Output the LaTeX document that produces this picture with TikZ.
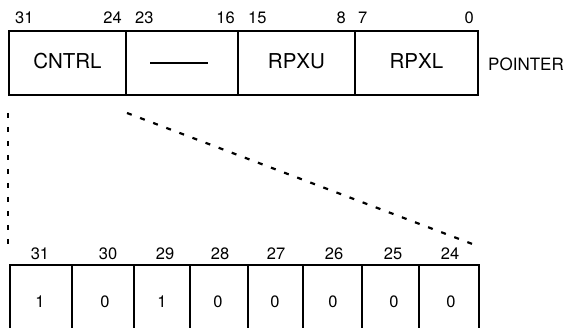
\documentclass[tikz,border=0pt]{standalone}
\usepackage{fontspec}
\setmainfont{TeX Gyre Heros}
\begin{document}
\begin{tikzpicture}[x=1pt,y=-1pt,
  cell/.style={draw,line width=1.9pt,inner sep=0pt,anchor=north west,minimum height=64pt},
  bcell/.style={draw,line width=1.9pt,inner sep=0pt,anchor=north west,minimum height=100pt},
  bignum/.style={font=\fontsize{20.5}{20.5}\selectfont,inner sep=0pt},
  lbl/.style={font=\fontsize{16.5}{16.5}\selectfont,inner sep=0pt},
  val/.style={font=\fontsize{16.5}{16.5}\selectfont,inner sep=0pt},
  dsh/.style={line width=2.2pt,dash pattern=on 5pt off 9pt}]
\useasboundingbox (0,0) rectangle (566,328);
\clip (0,0) rectangle (566,328);
% top register
\node[cell,minimum width=117pt] (c1) at (8,30) {};
\node[cell,minimum width=112pt] (c2) at (125,30) {};
\node[cell,minimum width=117pt] (c3) at (237,30) {};
\node[cell,minimum width=123pt] (c4) at (354,30) {};
\node[bignum] (t1) at ([yshift=2pt]c1.center) {CNTRL};
\coordinate (dl) at (150,63);
\coordinate (dr) at (208,63);
\draw[line width=1.8pt] (dl) -- (dr);
\node[bignum] (t3) at ([yshift=2pt]c3.center) {RPXU};
\node[bignum] (t4) at ([yshift=2pt]c4.center) {RPXL};
\node[bignum,font=\fontsize{17}{17}\selectfont,anchor=east] (ptr) at (564,64) {POINTER};
% top bit numbers
\node[lbl,anchor=west] (n31) at (15,18) {31};
\node[lbl,anchor=east] (n24) at (122,18) {24};
\node[lbl,anchor=west] (n23) at (135,18) {23};
\node[lbl,anchor=east] (n16) at (235,18) {16};
\node[lbl,anchor=west] (n15) at (248,18) {15};
\node[lbl,anchor=east] (n8) at (346,18) {8};
\node[lbl,anchor=west] (n7) at (358,18) {7};
\node[lbl,anchor=east] (n0) at (474,18) {0};
% dashed lines
\coordinate (v1) at (8,113);
\coordinate (v2) at (8,245);
\coordinate (d1) at (127,113);
\coordinate (d2) at (475,245);
\draw[dsh] (v1) -- (v2);
\draw[dsh] (d1) -- (d2);
% bottom byte
\node[bcell,minimum width=62pt] (b1) at (9,264) {};
\node[bcell,minimum width=62pt] (b2) at (71,264) {};
\node[bcell,minimum width=56pt] (b3) at (133,264) {};
\node[bcell,minimum width=58pt] (b4) at (189,264) {};
\node[bcell,minimum width=55pt] (b5) at (247,264) {};
\node[bcell,minimum width=59pt] (b6) at (302,264) {};
\node[bcell,minimum width=57pt] (b7) at (361,264) {};
\node[bcell,minimum width=60pt] (b8) at (418,264) {};
\node[lbl] (m31) at (40,254) {31};
\node[lbl] (m30) at (108,254) {30};
\node[lbl] (m29) at (165,254) {29};
\node[lbl] (m28) at (220,254) {28};
\node[lbl] (m27) at (276,254) {27};
\node[lbl] (m26) at (334,254) {26};
\node[lbl] (m25) at (393,254) {25};
\node[lbl] (m24) at (450,254) {24};
\node[val] (v31) at (40,302) {1};
\node[val] (v30) at (105,302) {0};
\node[val] (v29) at (162,302) {1};
\node[val] (v28) at (218,302) {0};
\node[val] (v27) at (275,302) {0};
\node[val] (v26) at (333,302) {0};
\node[val] (v25) at (394,302) {0};
\node[val] (v24) at (451,302) {0};
\end{tikzpicture}
\end{document}
